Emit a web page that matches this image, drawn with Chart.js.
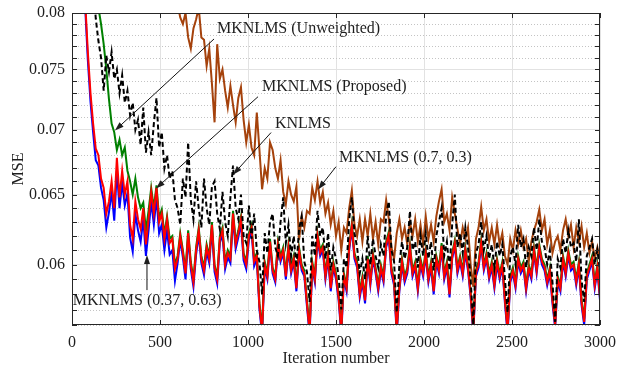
<!DOCTYPE html>
<html>
<head>
<meta charset="utf-8">
<script src="https://cdn.jsdelivr.net/npm/chart.js@4.4.0/dist/chart.umd.min.js"></script>
<style>
    html, body { margin: 0; padding: 0; background: #fff; }
    #wrap { width: 617px; height: 372px; }
</style>
</head>
<body>
<div id="wrap"><canvas id="mseChart" width="617" height="372"></canvas></div>
<script>
// Iteration index of every sample (one sample each 15 iterations, 0..3000)
const iterations = [];
for (let i = 0; i <= 3000; i += 15) iterations.push(i);

const xTicks = [0, 500, 1000, 1500, 2000, 2500, 3000];
const yMajorTicks = [0.06, 0.065, 0.07, 0.075, 0.08];
const yMinorTicks = [0.056, 0.057, 0.058, 0.059, 0.061, 0.062, 0.063, 0.064, 0.066, 0.067, 0.068, 0.069,
                     0.071, 0.072, 0.073, 0.074, 0.076, 0.077, 0.078, 0.079];

// MKNLMS (Proposed) - each row is 150 iterations
const mseProposed = [
    0.120, 0.110, 0.100, 0.093, 0.087, 0.0810, 0.0765, 0.0730, 0.0705, 0.0685,
    0.0680, 0.0662, 0.0655, 0.0636, 0.0645, 0.0660, 0.0640, 0.0678, 0.0648, 0.0668,
    0.0650, 0.0660, 0.0628, 0.0618, 0.0645, 0.0632, 0.0625, 0.0640, 0.0614, 0.0632,
    0.0652, 0.0636, 0.0655, 0.0630, 0.0636, 0.0618, 0.0632, 0.0615, 0.0618, 0.0597,
    0.0604, 0.0620, 0.0608, 0.0594, 0.0622, 0.0600, 0.0588, 0.0610, 0.0624, 0.0604,
    0.0596, 0.0612, 0.0604, 0.0628, 0.0598, 0.0590, 0.0618, 0.0624, 0.0600, 0.0608,
    0.0604, 0.0636, 0.0614, 0.0622, 0.0632, 0.0606, 0.0600, 0.0620, 0.0626, 0.0602,
    0.0606, 0.0572, 0.0556, 0.0600, 0.0592, 0.0616, 0.0596, 0.0590, 0.0614, 0.0604,
    0.0610, 0.0592, 0.0612, 0.0596, 0.0604, 0.0584, 0.0610, 0.0598, 0.0594, 0.0574,
    0.0556, 0.0600, 0.0590, 0.0620, 0.0608, 0.0612, 0.0592, 0.0606, 0.0584, 0.0600,
    0.0592, 0.0578, 0.0556, 0.0592, 0.0584, 0.0612, 0.0627, 0.0606, 0.0600, 0.0580,
    0.0590, 0.0576, 0.0604, 0.0588, 0.0606, 0.0596, 0.0584, 0.0598, 0.0590, 0.0614,
    0.0621, 0.0596, 0.0588, 0.0556, 0.0584, 0.0602, 0.0590, 0.0596, 0.0612, 0.0594,
    0.0600, 0.0584, 0.0602, 0.0594, 0.0608, 0.0590, 0.0600, 0.0582, 0.0604, 0.0596,
    0.0613, 0.0592, 0.0600, 0.0580, 0.0606, 0.0615, 0.0596, 0.0604, 0.0594, 0.0610,
    0.0598, 0.0580, 0.0556, 0.0594, 0.0600, 0.0615, 0.0598, 0.0606, 0.0592, 0.0600,
    0.0586, 0.0602, 0.0592, 0.0600, 0.0576, 0.0556, 0.0590, 0.0596, 0.0586, 0.0604,
    0.0596, 0.0600, 0.0584, 0.0598, 0.0592, 0.0610, 0.0596, 0.0612, 0.0602, 0.0598,
    0.0588, 0.0596, 0.0576, 0.0560, 0.0590, 0.0584, 0.0604, 0.0594, 0.0608, 0.0598,
    0.0600, 0.0588, 0.0600, 0.0575, 0.0562, 0.0592, 0.0598, 0.0604, 0.0586, 0.0598,
    0.0578
];

// MKNLMS (0.37, 0.63)
const mseFixedA = [
    0.120, 0.110, 0.100, 0.093, 0.087, 0.0805, 0.0758, 0.0723, 0.0698, 0.0676,
    0.0672, 0.0655, 0.0646, 0.0626, 0.0637, 0.0652, 0.0631, 0.0668, 0.0640, 0.0659,
    0.0642, 0.0651, 0.0619, 0.0609, 0.0636, 0.0624, 0.0616, 0.0632, 0.0606, 0.0624,
    0.0645, 0.0628, 0.0648, 0.0622, 0.0628, 0.0610, 0.0624, 0.0607, 0.0610, 0.0589,
    0.0601, 0.0617, 0.0605, 0.0590, 0.0619, 0.0597, 0.0585, 0.0607, 0.0621, 0.0601,
    0.0593, 0.0609, 0.0601, 0.0625, 0.0595, 0.0587, 0.0615, 0.0621, 0.0597, 0.0605,
    0.0601, 0.0633, 0.0611, 0.0619, 0.0629, 0.0603, 0.0597, 0.0617, 0.0623, 0.0599,
    0.0604, 0.0570, 0.0554, 0.0598, 0.0590, 0.0614, 0.0594, 0.0588, 0.0612, 0.0602,
    0.0608, 0.0590, 0.0610, 0.0594, 0.0602, 0.0582, 0.0608, 0.0596, 0.0592, 0.0572,
    0.0554, 0.0598, 0.0588, 0.0618, 0.0606, 0.0610, 0.0590, 0.0604, 0.0582, 0.0598,
    0.0590, 0.0576, 0.0554, 0.0590, 0.0582, 0.0610, 0.0625, 0.0604, 0.0598, 0.0578,
    0.0588, 0.0574, 0.0602, 0.0586, 0.0604, 0.0594, 0.0582, 0.0596, 0.0588, 0.0612,
    0.0619, 0.0594, 0.0586, 0.0554, 0.0582, 0.0600, 0.0588, 0.0594, 0.0610, 0.0592,
    0.0598, 0.0582, 0.0600, 0.0592, 0.0606, 0.0588, 0.0598, 0.0580, 0.0602, 0.0594,
    0.0611, 0.0590, 0.0598, 0.0578, 0.0604, 0.0613, 0.0594, 0.0602, 0.0592, 0.0608,
    0.0596, 0.0578, 0.0554, 0.0592, 0.0598, 0.0613, 0.0596, 0.0604, 0.0590, 0.0598,
    0.0584, 0.0600, 0.0590, 0.0598, 0.0574, 0.0554, 0.0588, 0.0594, 0.0584, 0.0602,
    0.0594, 0.0598, 0.0582, 0.0596, 0.0590, 0.0608, 0.0594, 0.0610, 0.0600, 0.0596,
    0.0586, 0.0594, 0.0574, 0.0558, 0.0588, 0.0582, 0.0602, 0.0592, 0.0606, 0.0596,
    0.0598, 0.0586, 0.0598, 0.0573, 0.0560, 0.0590, 0.0596, 0.0602, 0.0584, 0.0596,
    0.0576
];

// MKNLMS (Unweighted)
const mseUnweighted = [
    0.140, 0.130, 0.120, 0.112, 0.105, 0.099, 0.094, 0.090, 0.086, 0.083,
    0.0805, 0.0790, 0.0772, 0.0750, 0.0725, 0.0705, 0.0698, 0.0684, 0.0692, 0.0680,
    0.0686, 0.0668, 0.0660, 0.0650, 0.0662, 0.0648, 0.0640, 0.0644, 0.0624, 0.0638,
    0.0655, 0.0640, 0.0657, 0.0633, 0.0639, 0.0621, 0.0634, 0.0618, 0.0620, 0.0600,
    0.0606, 0.0622, 0.0610, 0.0596, 0.0624, 0.0602, 0.0590, 0.0612, 0.0626, 0.0606,
    0.0598, 0.0614, 0.0606, 0.0630, 0.0600, 0.0592, 0.0620, 0.0626, 0.0602, 0.0610,
    0.0606, 0.0638, 0.0616, 0.0624, 0.0634, 0.0608, 0.0602, 0.0622, 0.0628, 0.0604,
    0.0608, 0.0574, 0.0558, 0.0602, 0.0594, 0.0618, 0.0598, 0.0592, 0.0616, 0.0606,
    0.0612, 0.0594, 0.0614, 0.0598, 0.0606, 0.0586, 0.0612, 0.0600, 0.0596, 0.0576,
    0.0558, 0.0602, 0.0592, 0.0622, 0.0610, 0.0614, 0.0594, 0.0608, 0.0586, 0.0602,
    0.0594, 0.0580, 0.0558, 0.0594, 0.0586, 0.0614, 0.0629, 0.0608, 0.0602, 0.0582,
    0.0592, 0.0578, 0.0606, 0.0590, 0.0608, 0.0598, 0.0586, 0.0600, 0.0592, 0.0616,
    0.0623, 0.0598, 0.0590, 0.0558, 0.0586, 0.0604, 0.0592, 0.0598, 0.0614, 0.0596,
    0.0602, 0.0586, 0.0604, 0.0596, 0.0610, 0.0592, 0.0602, 0.0584, 0.0606, 0.0598,
    0.0615, 0.0594, 0.0602, 0.0582, 0.0608, 0.0617, 0.0598, 0.0606, 0.0596, 0.0612,
    0.0600, 0.0582, 0.0558, 0.0596, 0.0602, 0.0617, 0.0600, 0.0608, 0.0594, 0.0602,
    0.0588, 0.0604, 0.0594, 0.0602, 0.0578, 0.0558, 0.0592, 0.0598, 0.0588, 0.0606,
    0.0598, 0.0602, 0.0586, 0.0600, 0.0594, 0.0612, 0.0598, 0.0614, 0.0604, 0.0600,
    0.0590, 0.0598, 0.0578, 0.0562, 0.0592, 0.0586, 0.0606, 0.0596, 0.0610, 0.0600,
    0.0602, 0.0590, 0.0602, 0.0577, 0.0564, 0.0594, 0.0600, 0.0606, 0.0588, 0.0600,
    0.0580
];

// KNLMS
const mseKnlms = [
    0.150, 0.140, 0.130, 0.120, 0.110, 0.100, 0.094, 0.088, 0.083, 0.0795,
    0.0775, 0.0760, 0.0732, 0.0762, 0.0748, 0.0765, 0.0742, 0.0750, 0.0730, 0.0745,
    0.0722, 0.0732, 0.0712, 0.0722, 0.0700, 0.0708, 0.0688, 0.0718, 0.0682, 0.0698,
    0.0680, 0.0705, 0.0726, 0.0686, 0.0698, 0.0670, 0.0680, 0.0662, 0.0668, 0.0646,
    0.0640, 0.0628, 0.0662, 0.0648, 0.0690, 0.0646, 0.0632, 0.0660, 0.0640, 0.0626,
    0.0662, 0.0640, 0.0628, 0.0656, 0.0660, 0.0636, 0.0625, 0.0652, 0.0630, 0.0620,
    0.0648, 0.0672, 0.0640, 0.0632, 0.0650, 0.0620, 0.0615, 0.0642, 0.0618, 0.0636,
    0.0610, 0.0602, 0.0580, 0.0622, 0.0608, 0.0630, 0.0636, 0.0612, 0.0606, 0.0630,
    0.0648, 0.0615, 0.0628, 0.0606, 0.0620, 0.0598, 0.0625, 0.0634, 0.0602, 0.0595,
    0.0575, 0.0620, 0.0606, 0.0638, 0.0620, 0.0626, 0.0604, 0.0622, 0.0596, 0.0612,
    0.0604, 0.0592, 0.0570, 0.0604, 0.0598, 0.0632, 0.0648, 0.0622, 0.0612, 0.0594,
    0.0604, 0.0590, 0.0620, 0.0600, 0.0618, 0.0606, 0.0598, 0.0614, 0.0606, 0.0635,
    0.0645, 0.0610, 0.0602, 0.0568, 0.0600, 0.0616, 0.0604, 0.0612, 0.0638, 0.0610,
    0.0616, 0.0598, 0.0620, 0.0606, 0.0622, 0.0604, 0.0616, 0.0596, 0.0620, 0.0630,
    0.0640, 0.0606, 0.0616, 0.0596, 0.0628, 0.0650, 0.0612, 0.0622, 0.0608, 0.0626,
    0.0612, 0.0590, 0.0560, 0.0608, 0.0614, 0.0630, 0.0610, 0.0620, 0.0604, 0.0614,
    0.0598, 0.0616, 0.0606, 0.0614, 0.0590, 0.0568, 0.0606, 0.0612, 0.0600, 0.0628,
    0.0612, 0.0618, 0.0598, 0.0612, 0.0606, 0.0626, 0.0610, 0.0632, 0.0616, 0.0612,
    0.0600, 0.0610, 0.0588, 0.0562, 0.0604, 0.0598, 0.0618, 0.0608, 0.0624, 0.0612,
    0.0615, 0.0602, 0.0632, 0.0590, 0.0575, 0.0606, 0.0612, 0.0618, 0.0600, 0.0610,
    0.0596
];

// MKNLMS (0.7, 0.3)
const mseFixedB = [
    0.200, 0.190, 0.180, 0.170, 0.160, 0.152, 0.145, 0.139, 0.133, 0.128,
    0.123, 0.119, 0.115, 0.111, 0.108, 0.105, 0.102, 0.099, 0.097, 0.095,
    0.093, 0.091, 0.0895, 0.088, 0.0868, 0.0858, 0.085, 0.0843, 0.0837, 0.0832,
    0.0828, 0.0825, 0.0822, 0.0819, 0.0816, 0.0813, 0.0811, 0.0809, 0.0807, 0.0805,
    0.0808, 0.0796, 0.0790, 0.0800, 0.0778, 0.0768, 0.0786, 0.0794, 0.0805, 0.0778,
    0.0776, 0.0753, 0.0768, 0.0738, 0.0706, 0.0772, 0.0742, 0.0750, 0.0732, 0.0718,
    0.0736, 0.0720, 0.0706, 0.0726, 0.0735, 0.0708, 0.0690, 0.0704, 0.0686, 0.0680,
    0.0714, 0.0684, 0.0654, 0.0670, 0.0662, 0.0690, 0.0684, 0.0670, 0.0662, 0.0676,
    0.0652, 0.0643, 0.0660, 0.0650, 0.0645, 0.0656, 0.0617, 0.0634, 0.0626, 0.0638,
    0.0636, 0.0655, 0.0646, 0.0660, 0.0644, 0.0652, 0.0636, 0.0644, 0.0628, 0.0638,
    0.0620, 0.0630, 0.0610, 0.0626, 0.0622, 0.0640, 0.0653, 0.0628, 0.0620, 0.0632,
    0.0616, 0.0632, 0.0620, 0.0636, 0.0618, 0.0630, 0.0614, 0.0632, 0.0630, 0.0646,
    0.0632, 0.0612, 0.0604, 0.0622, 0.0632, 0.0618, 0.0626, 0.0614, 0.0630, 0.0620,
    0.0632, 0.0616, 0.0628, 0.0614, 0.0634, 0.0618, 0.0628, 0.0616, 0.0634, 0.0645,
    0.0654, 0.0630, 0.0636, 0.0624, 0.0648, 0.0636, 0.0625, 0.0614, 0.0626, 0.0618,
    0.0626, 0.0600, 0.0585, 0.0618, 0.0626, 0.0641, 0.0624, 0.0632, 0.0616, 0.0626,
    0.0614, 0.0628, 0.0614, 0.0622, 0.0606, 0.0600, 0.0618, 0.0610, 0.0624, 0.0614,
    0.0624, 0.0612, 0.0618, 0.0602, 0.0616, 0.0624, 0.0630, 0.0639, 0.0624, 0.0632,
    0.0614, 0.0624, 0.0608, 0.0616, 0.0620, 0.0610, 0.0624, 0.0632, 0.0620, 0.0628,
    0.0612, 0.0626, 0.0616, 0.0627, 0.0612, 0.0622, 0.0608, 0.0616, 0.0604, 0.0612,
    0.0603
];

// Labels with arrows, placed in data coordinates [iteration, MSE]
const notes = [
    { text: 'MKNLMS (Unweighted)', at: [824, 0.07855], from: [807, 0.07766], to: [244, 0.06994] },
    { text: 'MKNLMS (Proposed)',   at: [1080, 0.07354], from: [1057, 0.0727], to: [477, 0.06546] },
    { text: 'KNLMS',               at: [1153, 0.07049], from: [1131, 0.06978], to: [915, 0.0665] },
    { text: 'MKNLMS (0.7, 0.3)',   at: [1517, 0.06782], from: [1500, 0.06711], to: [1398, 0.06538] },
    { text: 'MKNLMS (0.37, 0.63)', at: [4, 0.05755],    from: [426, 0.05828], to: [426, 0.06066] }
];

const serif = 'Liberation Serif';
const textColor = '#1e1e1e';

function toPoints(values) {
    return iterations.map((it, i) => ({ x: it, y: values[i] }));
}

const decorPlugin = {
    id: 'decor',
    beforeDatasetsDraw(chart) {
        const { ctx, chartArea: a, scales: { y } } = chart;
        ctx.save();
        ctx.strokeStyle = '#c4c4c4';
        ctx.lineWidth = 1;
        ctx.setLineDash([1, 2]);
        yMinorTicks.forEach(v => {
            const py = Math.round(y.getPixelForValue(v)) + 0.5;
            ctx.beginPath();
            ctx.moveTo(a.left, py);
            ctx.lineTo(a.right, py);
            ctx.stroke();
        });
        ctx.restore();
    },
    afterDatasetsDraw(chart) {
        const { ctx, chartArea: a, scales: { x, y } } = chart;
        ctx.save();
        // frame
        ctx.strokeStyle = '#262626';
        ctx.lineWidth = 1;
        ctx.strokeRect(a.left + 0.5, a.top + 0.5, a.right - a.left - 1, a.bottom - a.top - 1);
        // inward tick marks
        ctx.beginPath();
        yMajorTicks.concat(yMinorTicks).forEach(v => {
            const py = Math.round(y.getPixelForValue(v)) + 0.5;
            ctx.moveTo(a.left, py); ctx.lineTo(a.left + 5, py);
            ctx.moveTo(a.right, py); ctx.lineTo(a.right - 5, py);
        });
        xTicks.forEach(v => {
            const px = Math.round(x.getPixelForValue(v)) + 0.5;
            ctx.moveTo(px, a.top); ctx.lineTo(px, a.top + 5);
            ctx.moveTo(px, a.bottom); ctx.lineTo(px, a.bottom - 5);
        });
        ctx.stroke();

        // annotations
        ctx.font = '16px "' + serif + '"';
        ctx.fillStyle = textColor;
        ctx.strokeStyle = '#111';
        ctx.textBaseline = 'middle';
        ctx.textAlign = 'left';
        notes.forEach(n => {
            ctx.fillText(n.text, x.getPixelForValue(n.at[0]), y.getPixelForValue(n.at[1]));
            const x1 = x.getPixelForValue(n.from[0]), y1 = y.getPixelForValue(n.from[1]);
            const x2 = x.getPixelForValue(n.to[0]), y2 = y.getPixelForValue(n.to[1]);
            const ang = Math.atan2(y2 - y1, x2 - x1);
            ctx.beginPath();
            ctx.moveTo(x1, y1);
            ctx.lineTo(x2 - 6 * Math.cos(ang), y2 - 6 * Math.sin(ang));
            ctx.stroke();
            ctx.beginPath();
            ctx.moveTo(x2, y2);
            ctx.lineTo(x2 - 9 * Math.cos(ang) + 3 * Math.sin(ang), y2 - 9 * Math.sin(ang) - 3 * Math.cos(ang));
            ctx.lineTo(x2 - 9 * Math.cos(ang) - 3 * Math.sin(ang), y2 - 9 * Math.sin(ang) + 3 * Math.cos(ang));
            ctx.closePath();
            ctx.fill();
        });
        ctx.restore();
    }
};

const ctx = document.getElementById('mseChart').getContext('2d');
const mseChart = new Chart(ctx, {
    type: 'line',
    data: {
        datasets: [{
            label: 'KNLMS',
            data: toPoints(mseKnlms),
            borderColor: '#000000',
            borderDash: [5, 3],
            borderWidth: 2
        }, {
            label: 'MKNLMS (0.7, 0.3)',
            data: toPoints(mseFixedB),
            borderColor: '#a5420c',
            borderWidth: 2
        }, {
            label: 'MKNLMS (Proposed)',
            data: toPoints(mseProposed),
            borderColor: '#ff0000',
            borderWidth: 2
        }, {
            label: 'MKNLMS (Unweighted)',
            data: toPoints(mseUnweighted),
            borderColor: '#008000',
            borderWidth: 2
        }, {
            label: 'MKNLMS (0.37, 0.63)',
            data: toPoints(mseFixedA),
            borderColor: '#0000ff',
            borderWidth: 2
        }]
    },
    options: {
        responsive: false,
        animation: false,
        layout: { padding: { top: 13, right: 17, left: 0, bottom: 0 } },
        elements: { point: { radius: 0 }, line: { tension: 0 } },
        plugins: { legend: { display: false }, tooltip: { enabled: false } },
        scales: {
            x: {
                type: 'linear',
                min: 0,
                max: 3000,
                afterBuildTicks: scale => { scale.ticks = xTicks.map(v => ({ value: v })); },
                afterFit: scale => { scale.height = 47; scale.paddingLeft = 0; scale.paddingRight = 0; },
                ticks: {
                    autoSkip: false,
                    maxRotation: 0,
                    padding: 8,
                    color: textColor,
                    font: { family: serif, size: 16 },
                    callback: value => String(value)
                },
                grid: { color: '#e2e2e2', lineWidth: 1, drawTicks: false },
                border: { display: false },
                title: {
                    display: true,
                    text: 'Iteration number',
                    color: textColor,
                    font: { family: serif, size: 16 },
                    padding: { top: 0, bottom: 4 }
                }
            },
            y: {
                type: 'logarithmic',
                min: 0.056,
                max: 0.08,
                afterBuildTicks: scale => { scale.ticks = yMajorTicks.map(v => ({ value: v })); },
                afterFit: scale => { scale.width = 72; scale.paddingTop = 0; scale.paddingBottom = 0; },
                ticks: {
                    autoSkip: false,
                    padding: 7,
                    color: textColor,
                    font: { family: serif, size: 16 },
                    callback: value => String(value)
                },
                grid: { color: '#e2e2e2', lineWidth: 1, drawTicks: false },
                border: { display: false },
                title: {
                    display: true,
                    text: 'MSE',
                    color: textColor,
                    font: { family: serif, size: 16 },
                    padding: { top: 9, bottom: 0 }
                }
            }
        }
    },
    plugins: [decorPlugin]
});
</script>
</body>
</html>
